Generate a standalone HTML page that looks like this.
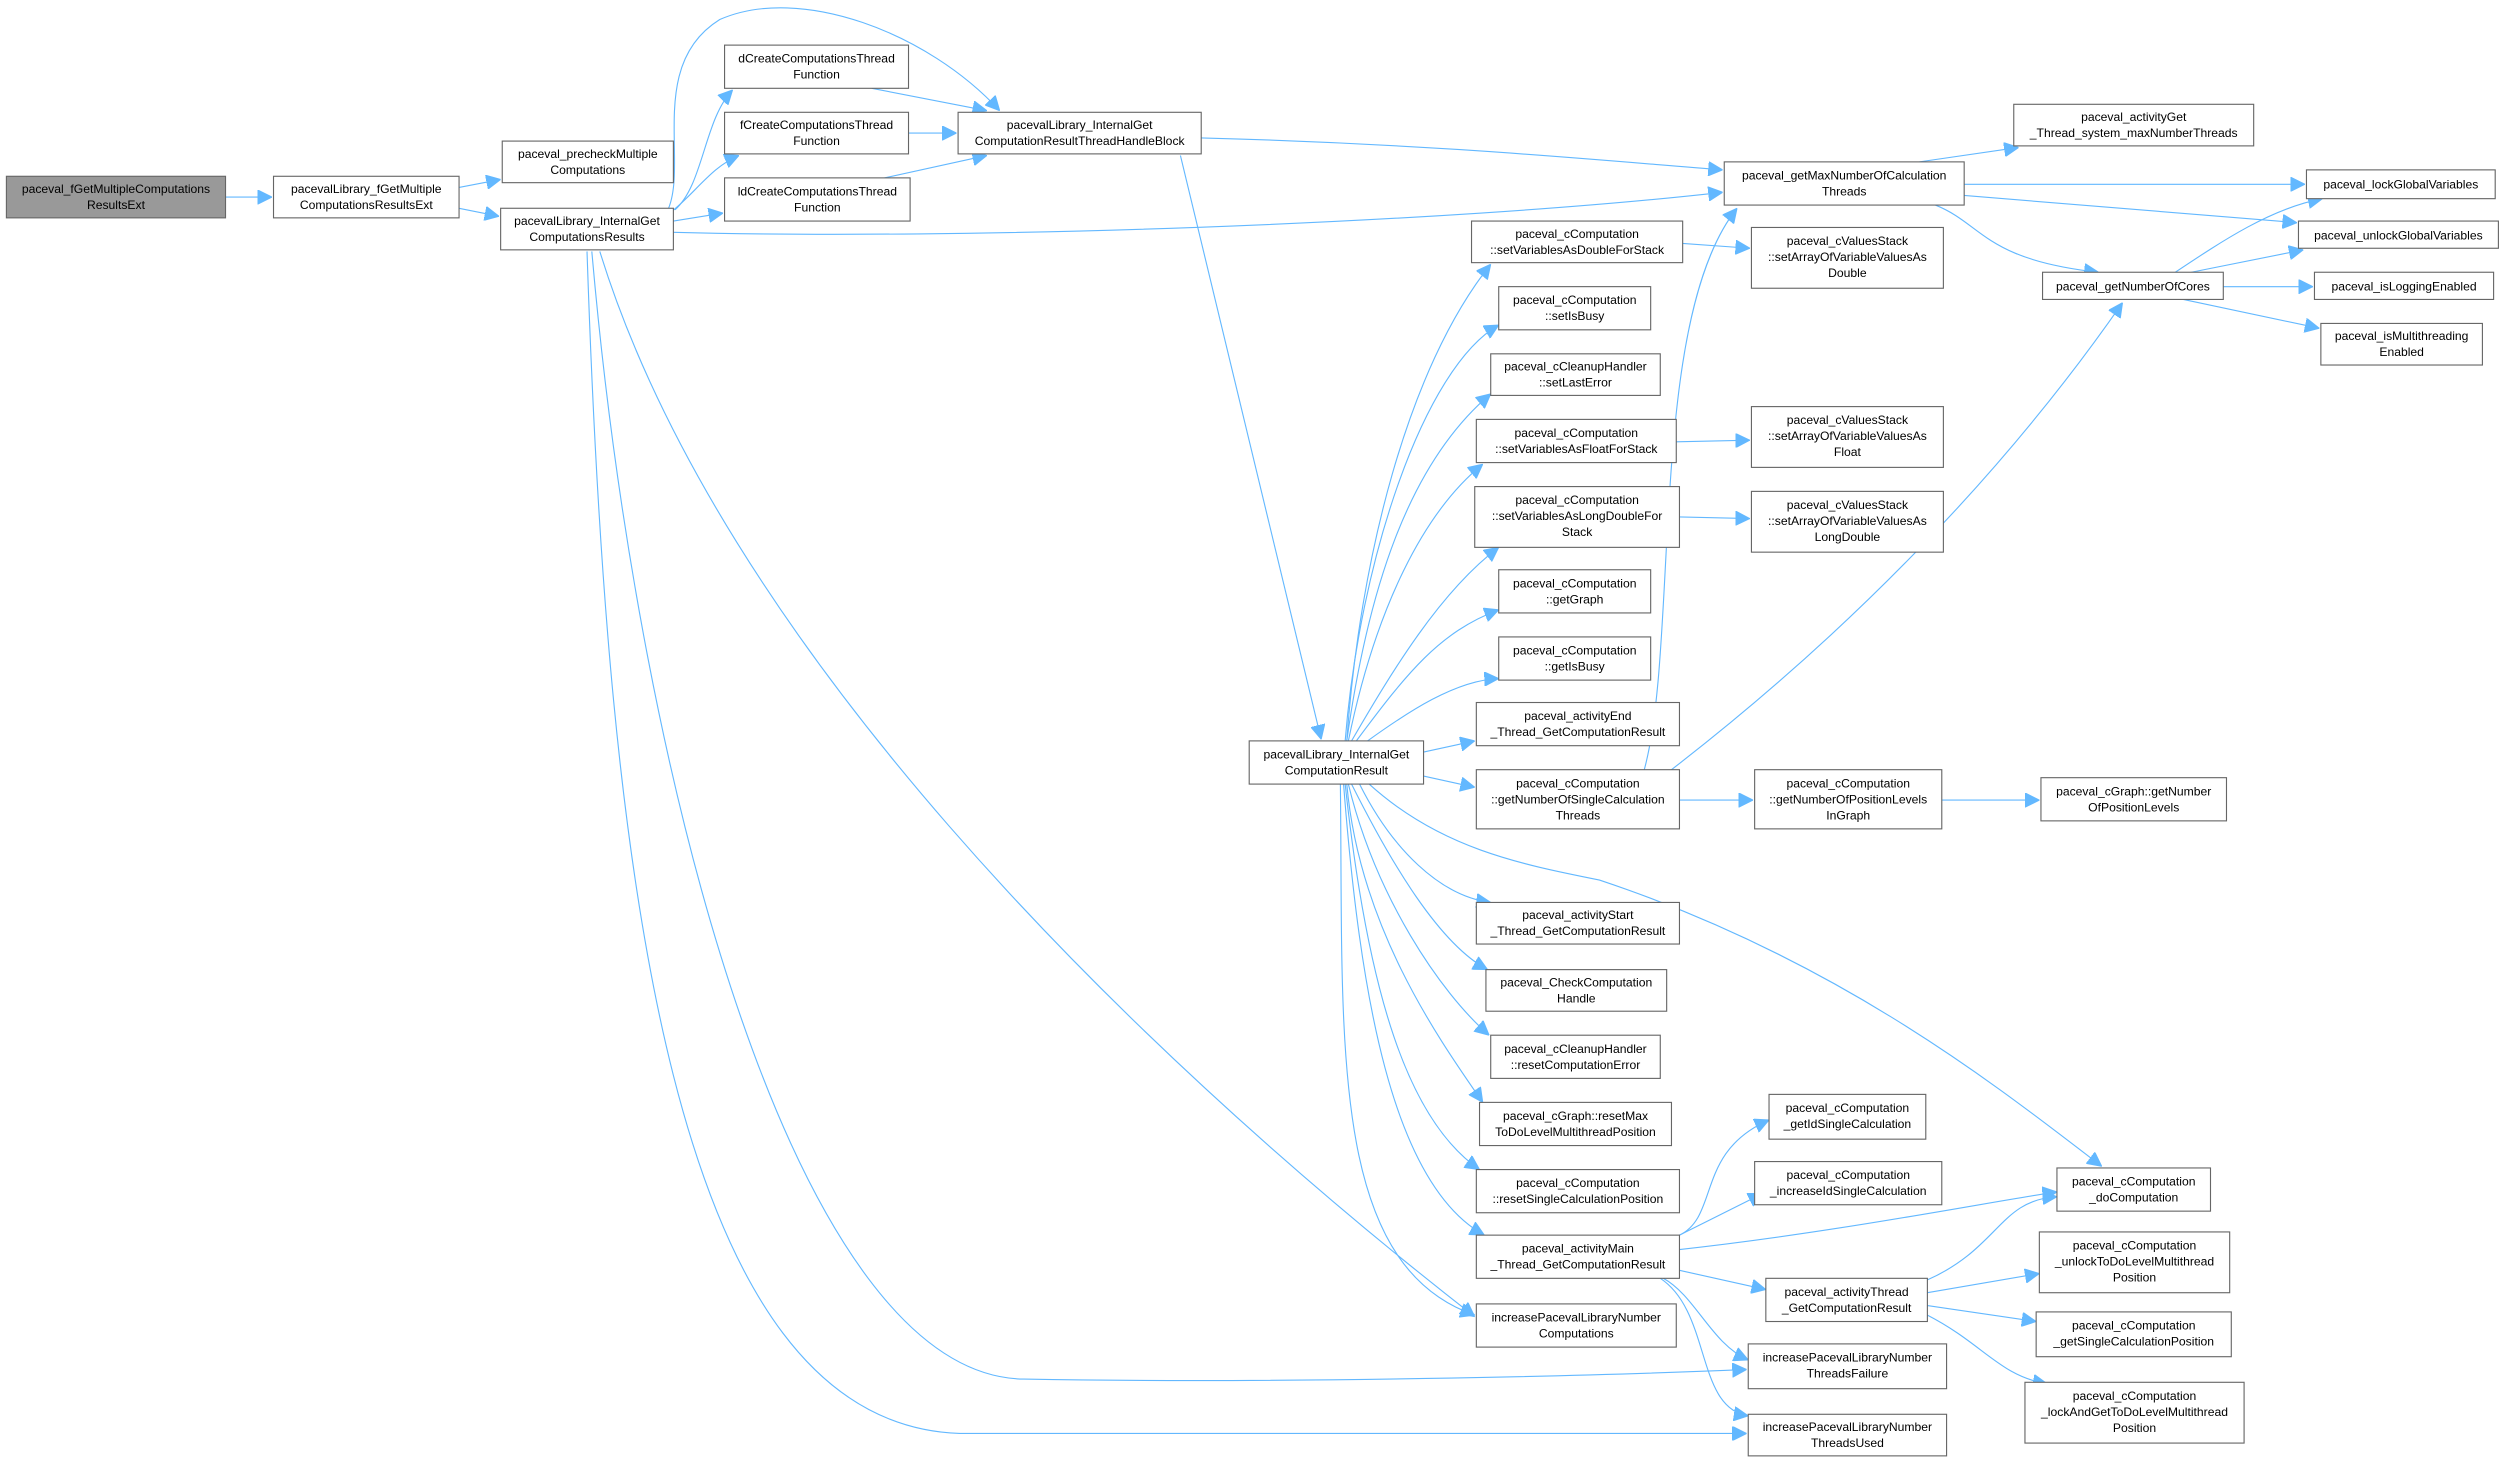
<!DOCTYPE html>
<html><head><meta charset="utf-8"><style>
html,body{margin:0;padding:0;background:#fff;}
svg{display:block;}
text{font-family:"Liberation Sans",sans-serif;font-size:7.6px;fill:#000;text-anchor:middle;}
rect{fill:#fff;stroke:#666;stroke-width:0.7;}
path{fill:none;stroke:#63b8ff;stroke-width:0.7;}
</style></head><body>
<svg width="2508" height="1461" viewBox="0 0 1568 913" xmlns="http://www.w3.org/2000/svg">
<defs><marker id="a" viewBox="0 0 10 10" refX="10" refY="5" markerWidth="9" markerHeight="9" markerUnits="userSpaceOnUse" orient="auto"><path d="M0,0 L10,5 L0,10 z" style="fill:#63b8ff;stroke:#63b8ff"/></marker></defs>
<g marker-end="url(#a)">
<path d="M141,123 L170,123"/>
<path d="M287,117 L313,112"/>
<path d="M287,130 L312,135"/>
<path d="M422,131 C440,115 440,75 458,56"/>
<path d="M420,132 C435,120 445,104 462,97"/>
<path d="M421,138 L452,133"/>
<path d="M418,130 C430,100 405,40 450,12 C500,-10 580,20 625,69"/>
<path d="M545,55 L617,69"/>
<path d="M568,83 L598,83"/>
<path d="M553,111 L617,97"/>
<path d="M751,86 C900,90 1000,100 1077,106"/>
<path d="M421,145 C600,150 900,140 1077,120"/>
<path d="M738,97 L826,462"/>
<path d="M375,157 C450,400 700,650 922,823"/>
<path d="M370,157 C400,500 500,860 640,862 C800,865 1000,860 1092,856"/>
<path d="M367,157 C380,550 420,890 600,896 L1092,896"/>
<path d="M1200,101 L1262,92"/>
<path d="M1228,115 L1441,115"/>
<path d="M1228,122 L1436,139"/>
<path d="M1210,128 C1240,140 1240,162 1312,170"/>
<path d="M1360,170 C1390,150 1420,130 1452,124"/>
<path d="M1370,170 L1440,156"/>
<path d="M1390,179 L1446,179"/>
<path d="M1365,187 L1450,205"/>
<path d="M1052,152 L1094,155"/>
<path d="M1048,276 L1094,275"/>
<path d="M1050,323 L1094,324"/>
<path d="M1050,500 L1096,500"/>
<path d="M1214,500 L1275,500"/>
<path d="M1028,481 C1050,400 1030,200 1086,130"/>
<path d="M1045,481 C1150,400 1250,300 1327,189"/>
<path d="M842,463 C850,350 880,230 932,165"/>
<path d="M841,463 C850,350 890,230 937,203"/>
<path d="M842,463 C855,370 880,290 932,246"/>
<path d="M843,463 C860,380 890,320 927,290"/>
<path d="M845,463 C870,420 900,370 937,342"/>
<path d="M848,463 C880,420 900,395 937,381"/>
<path d="M855,463 C880,445 910,425 937,424"/>
<path d="M890,470 L922,463"/>
<path d="M890,485 L922,492"/>
<path d="M850,490 C870,530 900,560 932,564"/>
<path d="M845,490 C870,540 900,590 930,606"/>
<path d="M843,490 C860,560 900,620 931,647"/>
<path d="M842,490 C850,580 900,650 927,689"/>
<path d="M841,490 C855,620 880,700 925,731"/>
<path d="M840,490 C850,620 870,740 928,772"/>
<path d="M838,490 C840,650 830,790 922,822"/>
<path d="M856,490 C900,530 950,540 1000,550 C1150,600 1250,680 1314,729"/>
<path d="M1050,772 C1075,760 1060,720 1106,700"/>
<path d="M1050,772 L1102,746"/>
<path d="M1050,781 C1150,770 1250,750 1286,745"/>
<path d="M1050,794 L1104,806"/>
<path d="M1040,799 C1060,810 1070,840 1093,850"/>
<path d="M1038,799 C1070,820 1060,880 1093,885"/>
<path d="M1205,800 C1250,780 1250,750 1286,748"/>
<path d="M1205,808 L1275,796"/>
<path d="M1205,816 L1273,826"/>
<path d="M1205,822 C1240,840 1250,860 1280,865"/>
</g>

<rect x="4" y="110" width="137" height="26" style="fill:#999"/><text x="72.5" y="120.5">paceval_fGetMultipleComputations</text><text x="72.5" y="130.5">ResultsExt</text>
<rect x="171" y="110" width="116" height="26"/><text x="229" y="120.5">pacevalLibrary_fGetMultiple</text><text x="229" y="130.5">ComputationsResultsExt</text>
<rect x="314" y="88" width="107" height="26"/><text x="367.5" y="98.5">paceval_precheckMultiple</text><text x="367.5" y="108.5">Computations</text>
<rect x="313" y="130" width="108" height="26"/><text x="367" y="140.5">pacevalLibrary_InternalGet</text><text x="367" y="150.5">ComputationsResults</text>
<rect x="453" y="28" width="115" height="27"/><text x="510.5" y="39">dCreateComputationsThread</text><text x="510.5" y="49">Function</text>
<rect x="453" y="70" width="115" height="26"/><text x="510.5" y="80.5">fCreateComputationsThread</text><text x="510.5" y="90.5">Function</text>
<rect x="453" y="111" width="116" height="27"/><text x="511" y="122">ldCreateComputationsThread</text><text x="511" y="132">Function</text>
<rect x="599" y="70" width="152" height="26"/><text x="675" y="80.5">pacevalLibrary_InternalGet</text><text x="675" y="90.5">ComputationResultThreadHandleBlock</text>
<rect x="1078" y="101" width="150" height="27"/><text x="1153" y="112">paceval_getMaxNumberOfCalculation</text><text x="1153" y="122">Threads</text>
<rect x="1259" y="65" width="150" height="26"/><text x="1334" y="75.5">paceval_activityGet</text><text x="1334" y="85.5">_Thread_system_maxNumberThreads</text>
<rect x="1442" y="106" width="118" height="18"/><text x="1501" y="117.5">paceval_lockGlobalVariables</text>
<rect x="1437" y="138" width="125" height="17"/><text x="1499.5" y="149.5">paceval_unlockGlobalVariables</text>
<rect x="1277" y="170" width="113" height="17"/><text x="1333.5" y="181.5">paceval_getNumberOfCores</text>
<rect x="1447" y="170" width="112" height="17"/><text x="1503" y="181.5">paceval_isLoggingEnabled</text>
<rect x="1451" y="202" width="101" height="26"/><text x="1501.5" y="212.5">paceval_isMultithreading</text><text x="1501.5" y="222.5">Enabled</text>
<rect x="920" y="138" width="132" height="26"/><text x="986" y="148.5">paceval_cComputation</text><text x="986" y="158.5">::setVariablesAsDoubleForStack</text>
<rect x="1095" y="142" width="120" height="38"/><text x="1155" y="153">paceval_cValuesStack</text><text x="1155" y="163">::setArrayOfVariableValuesAs</text><text x="1155" y="173">Double</text>
<rect x="937" y="179" width="95" height="27"/><text x="984.5" y="190">paceval_cComputation</text><text x="984.5" y="200">::setIsBusy</text>
<rect x="932" y="221" width="106" height="26"/><text x="985" y="231.5">paceval_cCleanupHandler</text><text x="985" y="241.5">::setLastError</text>
<rect x="923" y="262" width="125" height="27"/><text x="985.5" y="273">paceval_cComputation</text><text x="985.5" y="283">::setVariablesAsFloatForStack</text>
<rect x="1095" y="254" width="120" height="38"/><text x="1155" y="265">paceval_cValuesStack</text><text x="1155" y="275">::setArrayOfVariableValuesAs</text><text x="1155" y="285">Float</text>
<rect x="922" y="304" width="128" height="38"/><text x="986" y="315">paceval_cComputation</text><text x="986" y="325">::setVariablesAsLongDoubleFor</text><text x="986" y="335">Stack</text>
<rect x="1095" y="307" width="120" height="38"/><text x="1155" y="318">paceval_cValuesStack</text><text x="1155" y="328">::setArrayOfVariableValuesAs</text><text x="1155" y="338">LongDouble</text>
<rect x="937" y="356" width="95" height="27"/><text x="984.5" y="367">paceval_cComputation</text><text x="984.5" y="377">::getGraph</text>
<rect x="937" y="398" width="95" height="27"/><text x="984.5" y="409">paceval_cComputation</text><text x="984.5" y="419">::getIsBusy</text>
<rect x="781" y="463" width="109" height="27"/><text x="835.5" y="474">pacevalLibrary_InternalGet</text><text x="835.5" y="484">ComputationResult</text>
<rect x="923" y="439" width="127" height="27"/><text x="986.5" y="450">paceval_activityEnd</text><text x="986.5" y="460">_Thread_GetComputationResult</text>
<rect x="923" y="481" width="127" height="37"/><text x="986.5" y="492">paceval_cComputation</text><text x="986.5" y="502">::getNumberOfSingleCalculation</text><text x="986.5" y="512">Threads</text>
<rect x="1097" y="481" width="117" height="37"/><text x="1155.5" y="492">paceval_cComputation</text><text x="1155.5" y="502">::getNumberOfPositionLevels</text><text x="1155.5" y="512">InGraph</text>
<rect x="1276" y="486" width="116" height="27"/><text x="1334" y="497">paceval_cGraph::getNumber</text><text x="1334" y="507">OfPositionLevels</text>
<rect x="923" y="564" width="127" height="26"/><text x="986.5" y="574.5">paceval_activityStart</text><text x="986.5" y="584.5">_Thread_GetComputationResult</text>
<rect x="929" y="606" width="113" height="26"/><text x="985.5" y="616.5">paceval_CheckComputation</text><text x="985.5" y="626.5">Handle</text>
<rect x="932" y="647" width="106" height="27"/><text x="985" y="658">paceval_cCleanupHandler</text><text x="985" y="668">::resetComputationError</text>
<rect x="925" y="689" width="120" height="27"/><text x="985" y="700">paceval_cGraph::resetMax</text><text x="985" y="710">ToDoLevelMultithreadPosition</text>
<rect x="923" y="731" width="127" height="27"/><text x="986.5" y="742">paceval_cComputation</text><text x="986.5" y="752">::resetSingleCalculationPosition</text>
<rect x="923" y="772" width="127" height="27"/><text x="986.5" y="783">paceval_activityMain</text><text x="986.5" y="793">_Thread_GetComputationResult</text>
<rect x="923" y="815" width="125" height="27"/><text x="985.5" y="826">increasePacevalLibraryNumber</text><text x="985.5" y="836">Computations</text>
<rect x="1106" y="684" width="98" height="28"/><text x="1155" y="695">paceval_cComputation</text><text x="1155" y="705">_getIdSingleCalculation</text>
<rect x="1097" y="726" width="117" height="27"/><text x="1155.5" y="737">paceval_cComputation</text><text x="1155.5" y="747">_increaseIdSingleCalculation</text>
<rect x="1286" y="730" width="96" height="27"/><text x="1334" y="741">paceval_cComputation</text><text x="1334" y="751">_doComputation</text>
<rect x="1104" y="799" width="101" height="27"/><text x="1154.5" y="810">paceval_activityThread</text><text x="1154.5" y="820">_GetComputationResult</text>
<rect x="1275" y="770" width="119" height="38"/><text x="1334.5" y="781">paceval_cComputation</text><text x="1334.5" y="791">_unlockToDoLevelMultithread</text><text x="1334.5" y="801">Position</text>
<rect x="1273" y="820" width="122" height="28"/><text x="1334" y="831">paceval_cComputation</text><text x="1334" y="841">_getSingleCalculationPosition</text>
<rect x="1093" y="840" width="124" height="28"/><text x="1155" y="851">increasePacevalLibraryNumber</text><text x="1155" y="861">ThreadsFailure</text>
<rect x="1266" y="864" width="137" height="38"/><text x="1334.5" y="875">paceval_cComputation</text><text x="1334.5" y="885">_lockAndGetToDoLevelMultithread</text><text x="1334.5" y="895">Position</text>
<rect x="1093" y="884" width="124" height="26"/><text x="1155" y="894.5">increasePacevalLibraryNumber</text><text x="1155" y="904.5">ThreadsUsed</text>
</svg>
</body></html>
